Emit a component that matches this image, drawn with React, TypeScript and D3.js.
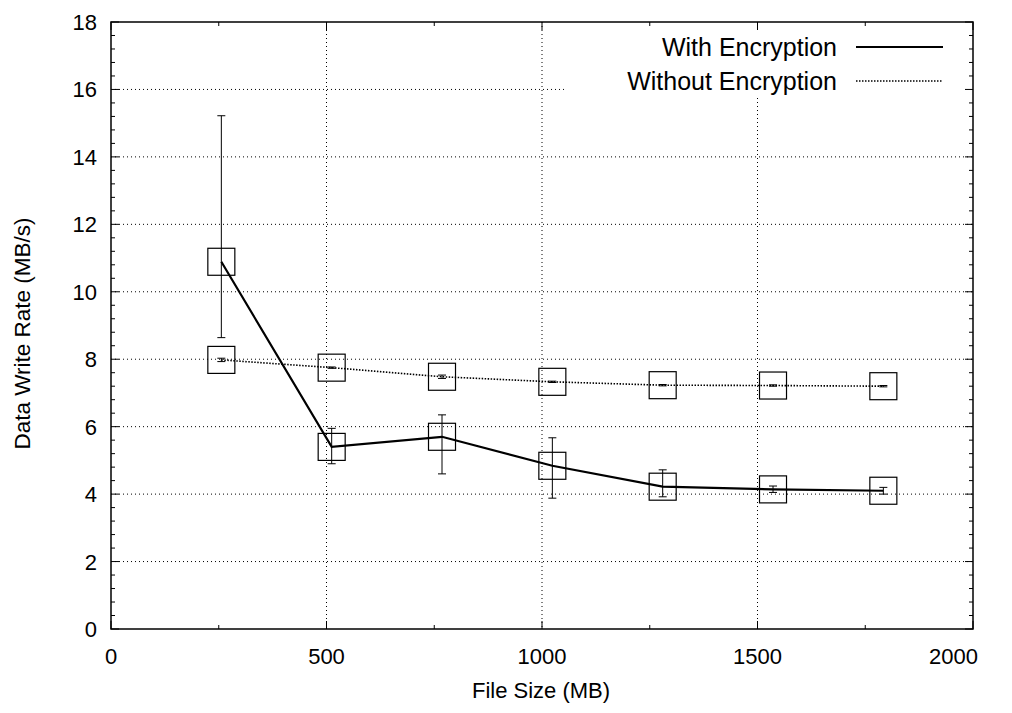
import React from "react";
import * as d3 from "d3";

const fileSizes = [256, 512, 768, 1024, 1280, 1536, 1792];
const withEnc = [10.89, 5.4, 5.7, 4.84, 4.22, 4.14, 4.1];
const withEncLow = [8.64, 4.9, 4.6, 3.88, 3.92, 4.05, 4.0];
const withEncHigh = [15.22, 5.95, 6.35, 5.67, 4.72, 4.24, 4.2];
const withoutEnc = [7.98, 7.75, 7.48, 7.33, 7.23, 7.22, 7.2];
const withoutEncLow = [7.93, 7.73, 7.43, 7.31, 7.21, 7.2, 7.18];
const withoutEncHigh = [8.03, 7.77, 7.53, 7.35, 7.25, 7.24, 7.22];
const xTicks = [0, 500, 1000, 1500, 2000];
const yTicks = [0, 2, 4, 6, 8, 10, 12, 14, 16, 18];
const seriesNames = ["With Encryption", "Without Encryption"];

const W = 1012, H = 713;
const L = 111, R = 973, T = 22, B = 629;

export default function App() {
  const x = d3.scaleLinear().domain([0, 2000]).range([L, R]);
  const y = d3.scaleLinear().domain([0, 18]).range([B, T]);
  const line = d3.line<number>().x((_, i) => x(fileSizes[i])).y((d) => y(d));
  const xMinor = d3.range(0, 2001, 250);
  const yMinor = d3.range(0, 18.001, 0.4);
  const font = "'Liberation Sans', Arial, Helvetica, sans-serif";
  const box = 27;

  const errBars = (vals: number[], lo: number[], hi: number[], key: string) =>
    vals.map((_, i) => {
      const cx = x(fileSizes[i]);
      return (
        <g key={key + i} stroke="#000" strokeWidth={1}>
          <line x1={cx} x2={cx} y1={y(lo[i])} y2={y(hi[i])} />
          <line x1={cx - 4} x2={cx + 4} y1={y(lo[i])} y2={y(lo[i])} />
          <line x1={cx - 4} x2={cx + 4} y1={y(hi[i])} y2={y(hi[i])} />
        </g>
      );
    });

  const boxes = (vals: number[], key: string) =>
    vals.map((v, i) => (
      <rect
        key={key + i}
        x={x(fileSizes[i]) - box / 2}
        y={y(v) - box / 2}
        width={box}
        height={box}
        fill="none"
        stroke="#000"
        strokeWidth={1.2}
      />
    ));

  return (
    <svg width={W} height={H} style={{ position: "absolute", left: 0, top: 0 }} fontFamily={font}>
      <rect width={W} height={H} fill="#fff" />
      {/* grid */}
      <g stroke="#000" strokeWidth={1} strokeDasharray="1,3">
        {xTicks.slice(1, -1).map((t) => (
          <line key={"gx" + t} x1={x(t)} x2={x(t)} y1={T} y2={B} />
        ))}
        {yTicks.slice(1, -1).map((t) => (
          <line key={"gy" + t} x1={L} x2={R} y1={y(t)} y2={y(t)} />
        ))}
      </g>
      {/* legend background */}
      <rect x={565} y={23} width={R - 566} height={74} fill="#fff" />
      {/* ticks */}
      <g stroke="#000" strokeWidth={1}>
        {xMinor.map((t) => {
          const major = t % 500 === 0;
          const len = major ? 8 : 4;
          return (
            <g key={"xt" + t}>
              <line x1={x(t)} x2={x(t)} y1={B} y2={B - len} />
              <line x1={x(t)} x2={x(t)} y1={T} y2={T + len} />
            </g>
          );
        })}
        {yMinor.map((t, i) => {
          const major = i % 5 === 0;
          const len = major ? 8 : 4;
          return (
            <g key={"yt" + i}>
              <line x1={L} x2={L + len} y1={y(t)} y2={y(t)} />
              <line x1={R} x2={R - len} y1={y(t)} y2={y(t)} />
            </g>
          );
        })}
      </g>
      {/* tick labels */}
      <g fontSize={22} fill="#000">
        {xTicks.map((t, i) => (
          <text
            key={"xl" + t}
            x={i === xTicks.length - 1 ? 978 : x(t)}
            y={B + 35}
            textAnchor={i === xTicks.length - 1 ? "end" : "middle"}
          >
            {t}
          </text>
        ))}
        {yTicks.map((t) => (
          <text key={"yl" + t} x={97} y={y(t) + 8} textAnchor="end">
            {t}
          </text>
        ))}
      </g>
      {/* axis titles */}
      <text x={541} y={698} textAnchor="middle" fontSize={22}>
        File Size (MB)
      </text>
      <text
        transform={`translate(30, ${(T + B) / 2 + 8}) rotate(-90)`}
        textAnchor="middle"
        fontSize={22.5}
      >
        Data Write Rate (MB/s)
      </text>
      {/* series */}
      <path d={line(withEnc) || ""} fill="none" stroke="#000" strokeWidth={2.2} />
      <path d={line(withoutEnc) || ""} fill="none" stroke="#000" strokeWidth={1.6} strokeDasharray="1.5,1.5" />
      {errBars(withEnc, withEncLow, withEncHigh, "we")}
      {errBars(withoutEnc, withoutEncLow, withoutEncHigh, "wo")}
      {boxes(withEnc, "bwe")}
      {boxes(withoutEnc, "bwo")}
      {/* legend */}
      <g fontSize={25}>
        <text x={837} y={56} textAnchor="end">{seriesNames[0]}</text>
        <line x1={856} x2={943} y1={47} y2={47} stroke="#000" strokeWidth={2.2} />
        <text x={837} y={90} textAnchor="end">{seriesNames[1]}</text>
        <line x1={856} x2={943} y1={81} y2={81} stroke="#000" strokeWidth={1.6} strokeDasharray="1.5,1.5" />
      </g>
      {/* frame */}
      <rect x={L} y={T} width={R - L} height={B - T} fill="none" stroke="#000" strokeWidth={1.5} />
    </svg>
  );
}
